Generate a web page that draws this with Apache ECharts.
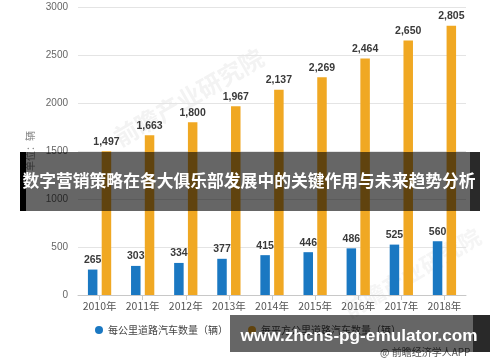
<!DOCTYPE html>
<html>
<head>
<meta charset="utf-8">
<script src="https://cdn.jsdelivr.net/npm/echarts@6/dist/echarts.min.js"></script>
<style>
html,body{margin:0;padding:0;background:#fff;}
#c{width:500px;height:362px;}
</style>
</head>
<body>
<div id="c"></div>
<script>
var categories = ['2010年','2011年','2012年','2013年','2014年','2015年','2016年','2017年','2018年'];
var seriesBlueName = '每公里道路汽车数量（辆）';
var seriesOrangeName = '每平方公里道路汽车数量（辆）';
var blueValues = [265, 303, 334, 377, 415, 446, 486, 525, 560];
var orangeValues = [1497, 1663, 1800, 1967, 2137, 2269, 2464, 2650, 2805];
var yTicks = [0, 500, 1000, 1500, 2000, 2500, 3000];
var titleText = '数字营销策略在各大俱乐部发展中的关键作用与未来趋势分析';
var urlText = 'www.zhcns-pg-emulator.com';
var sourceText = '@ 前瞻经济学人APP';
var watermarkText = '前瞻产业研究院';

function fmt(v){ return String(v).replace(/\B(?=(\d{3})+(?!\d))/g, ','); }

var chart = echarts.init(document.getElementById('c'), null, {renderer:'canvas'});
var labelStyle = {
  show: true, position: 'top', distance: 4,
  color: '#3a3a3a', fontWeight: 'bold', fontSize: 10.5,
  fontFamily: 'Liberation Sans, Arial, sans-serif',
  formatter: function(p){ return fmt(p.value); }
};
chart.setOption({
  backgroundColor: '#ffffff',
  animation: false,
  grid: {left: 78, right: 34, top: 7, bottom: 67, containLabel: false},
  legend: {
    bottom: 22, left: 90,
    itemWidth: 8, itemHeight: 8, itemGap: 20, icon: 'circle',
    textStyle: {color: '#444', fontSize: 10, fontFamily: 'Noto Sans CJK SC, sans-serif'},
    data: [seriesBlueName, seriesOrangeName]
  },
  xAxis: {
    type: 'category', data: categories,
    axisLine: {lineStyle: {color: '#c8c8c8'}},
    axisTick: {show: true, alignWithLabel: true, length: 5, lineStyle: {color: '#c8c8c8'}},
    axisLabel: {color: '#555', fontSize: 10.5, margin: 6, interval: 0, fontFamily: 'Noto Sans CJK SC, sans-serif'}
  },
  yAxis: {
    type: 'value', min: yTicks[0], max: yTicks[yTicks.length-1], interval: 500,
    name: '单位：辆', nameLocation: 'middle', nameRotate: 90, nameGap: 42,
    nameTextStyle: {color: '#888', fontSize: 10, fontFamily: 'Noto Sans CJK SC, sans-serif'},
    axisLine: {show: false}, axisTick: {show: false},
    axisLabel: {color: '#666', fontSize: 10, margin: 10, fontFamily: 'Liberation Sans, Arial, sans-serif',
                formatter: function(v){ return String(v); }},
    splitLine: {lineStyle: {color: '#e4e4e4'}}
  },
  series: [
    {name: seriesBlueName, type: 'bar', data: blueValues, barWidth: 9.5, barGap: '45%',
     itemStyle: {color: '#1a78c2'}, label: labelStyle},
    {name: seriesOrangeName, type: 'bar', data: orangeValues, barWidth: 9.5,
     itemStyle: {color: '#f0a823'}, label: labelStyle}
  ],
  graphic: [
    {type: 'text', z: -1, left: 110, top: 45, rotation: Math.PI/6,
     style: {text: watermarkText, fill: '#f3f3f3', fontSize: 24, fontWeight: 'bold', fontFamily: 'Noto Sans CJK SC, sans-serif'}},
    {type: 'text', z: -1, left: 340, top: 225, rotation: Math.PI/6,
     style: {text: watermarkText, fill: '#f5f5f5', fontSize: 22, fontWeight: 'bold', fontFamily: 'Noto Sans CJK SC, sans-serif'}},
    {type: 'text', z: 90, left: 380, top: 347,
     style: {text: sourceText, fill: '#555', fontSize: 10, fontFamily: 'Noto Sans CJK SC, sans-serif'}},
    {type: 'rect', z: 100, shape: {x: 20, y: 152, width: 460, height: 59},
     style: {fill: 'rgba(0,0,0,0.6)'}},
    {type: 'rect', z: 100, shape: {x: 20, y: 152, width: 6, height: 59}, style: {fill: '#000'}},
    {type: 'rect', z: 100, shape: {x: 470, y: 152, width: 10, height: 59}, style: {fill: 'rgba(0,0,0,0.6)'}},
    {type: 'text', z: 101, x: 249, y: 181,
     style: {text: titleText, fill: '#fff', fontSize: 16.8, fontWeight: 'bold', align: 'center', verticalAlign: 'middle',
             fontFamily: 'Noto Sans CJK SC, sans-serif'}},
    {type: 'rect', z: 100, shape: {x: 230, y: 315, width: 260, height: 37},
     style: {fill: 'rgba(0,0,0,0.6)'}},
    {type: 'rect', z: 100, shape: {x: 473, y: 315, width: 17, height: 37}, style: {fill: 'rgba(0,0,0,0.6)'}},
    {type: 'text', z: 101, x: 359, y: 336,
     style: {text: urlText, fill: '#fff', fontSize: 17.2, fontWeight: 'bold', align: 'center', verticalAlign: 'middle',
             fontFamily: 'Liberation Sans, Arial, sans-serif'}}
  ]
});
</script>
</body>
</html>
